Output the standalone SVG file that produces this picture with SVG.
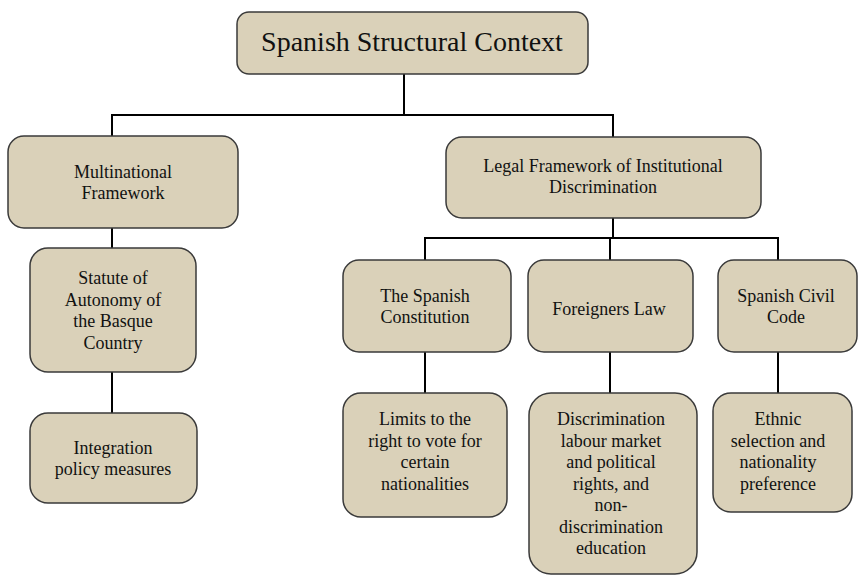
<svg xmlns="http://www.w3.org/2000/svg" width="858" height="575" viewBox="0 0 858 575">
<defs>
<style>
rect.box{fill:#dad1b9;stroke:#3a3a3a;stroke-width:1.5}
</style>
</defs>
<rect width="858" height="575" fill="#fff"/>
<g id="connectors" stroke="#000" stroke-width="2" fill="none">
<polyline points="404,74 404,115"/>
<polyline points="112,136 112,115 613,115 613,137"/>
<polyline points="112,228 112,248"/>
<polyline points="112,372 112,413"/>
<polyline points="613,218 613,238"/>
<polyline points="425,260 425,238 778,238 778,260"/>
<polyline points="610,238 610,260"/>
<polyline points="425,352 425,393"/>
<polyline points="610,352 610,393"/>
<polyline points="778,352 778,393"/>
</g>
<g id="root">
<rect class="box" x="237" y="12" width="351" height="62" rx="12"/>
<text x="412" y="51" font-family="Liberation Serif, serif" font-size="28" text-anchor="middle" fill="#111" style="font-family:'Liberation Serif',serif !important">Spanish Structural Context</text>
</g>
<g id="multinational" font-family="Liberation Serif, serif" font-size="18" text-anchor="middle" fill="#111">
<rect class="box" x="8" y="136" width="230" height="92" rx="16"/>
<text x="123" y="178" style="font-family:'Liberation Serif',serif !important">Multinational</text>
<text x="123" y="199" style="font-family:'Liberation Serif',serif !important">Framework</text>
</g>
<g id="statute" font-family="Liberation Serif, serif" font-size="18" text-anchor="middle" fill="#111">
<rect class="box" x="30" y="248" width="166" height="124" rx="18"/>
<text x="113" y="284" style="font-family:'Liberation Serif',serif !important">Statute of</text>
<text x="113" y="305.5" style="font-family:'Liberation Serif',serif !important">Autonomy of</text>
<text x="113" y="327" style="font-family:'Liberation Serif',serif !important">the Basque</text>
<text x="113" y="348.5" style="font-family:'Liberation Serif',serif !important">Country</text>
</g>
<g id="integration" font-family="Liberation Serif, serif" font-size="18" text-anchor="middle" fill="#111">
<rect class="box" x="30" y="413" width="167" height="90" rx="18"/>
<text x="113" y="454" style="font-family:'Liberation Serif',serif !important">Integration</text>
<text x="113" y="475" style="font-family:'Liberation Serif',serif !important">policy measures</text>
</g>
<g id="legal" font-family="Liberation Serif, serif" font-size="18" text-anchor="middle" fill="#111">
<rect class="box" x="446" y="137" width="315" height="81" rx="16"/>
<text x="603" y="172" style="font-family:'Liberation Serif',serif !important">Legal Framework of Institutional</text>
<text x="603" y="193" style="font-family:'Liberation Serif',serif !important">Discrimination</text>
</g>
<g id="constitution" font-family="Liberation Serif, serif" font-size="18" text-anchor="middle" fill="#111">
<rect class="box" x="343" y="260" width="168" height="92" rx="16"/>
<text x="425" y="302" style="font-family:'Liberation Serif',serif !important">The Spanish</text>
<text x="425" y="323" style="font-family:'Liberation Serif',serif !important">Constitution</text>
</g>
<g id="foreigners" font-family="Liberation Serif, serif" font-size="18" text-anchor="middle" fill="#111">
<rect class="box" x="528" y="260" width="165" height="92" rx="16"/>
<text x="609" y="315" style="font-family:'Liberation Serif',serif !important">Foreigners Law</text>
</g>
<g id="civilcode" font-family="Liberation Serif, serif" font-size="18" text-anchor="middle" fill="#111">
<rect class="box" x="718" y="260" width="139" height="92" rx="16"/>
<text x="786" y="302" style="font-family:'Liberation Serif',serif !important">Spanish Civil</text>
<text x="786" y="323" style="font-family:'Liberation Serif',serif !important">Code</text>
</g>
<g id="limits" font-family="Liberation Serif, serif" font-size="18" text-anchor="middle" fill="#111">
<rect class="box" x="343" y="393" width="164" height="124" rx="18"/>
<text x="425" y="425" style="font-family:'Liberation Serif',serif !important">Limits to the</text>
<text x="425" y="446.5" style="font-family:'Liberation Serif',serif !important">right to vote for</text>
<text x="425" y="468" style="font-family:'Liberation Serif',serif !important">certain</text>
<text x="425" y="489.5" style="font-family:'Liberation Serif',serif !important">nationalities</text>
</g>
<g id="discrimination" font-family="Liberation Serif, serif" font-size="18" text-anchor="middle" fill="#111">
<rect class="box" x="529" y="393" width="168" height="181" rx="22"/>
<text x="611" y="425" style="font-family:'Liberation Serif',serif !important">Discrimination</text>
<text x="611" y="446.5" style="font-family:'Liberation Serif',serif !important">labour market</text>
<text x="611" y="468" style="font-family:'Liberation Serif',serif !important">and political</text>
<text x="611" y="489.5" style="font-family:'Liberation Serif',serif !important">rights, and</text>
<text x="611" y="511" style="font-family:'Liberation Serif',serif !important">non-</text>
<text x="611" y="532.5" style="font-family:'Liberation Serif',serif !important">discrimination</text>
<text x="611" y="554" style="font-family:'Liberation Serif',serif !important">education</text>
</g>
<g id="ethnic" font-family="Liberation Serif, serif" font-size="18" text-anchor="middle" fill="#111">
<rect class="box" x="713" y="393" width="139" height="119" rx="18"/>
<text x="778" y="425" style="font-family:'Liberation Serif',serif !important">Ethnic</text>
<text x="778" y="446.5" style="font-family:'Liberation Serif',serif !important">selection and</text>
<text x="778" y="468" style="font-family:'Liberation Serif',serif !important">nationality</text>
<text x="778" y="489.5" style="font-family:'Liberation Serif',serif !important">preference</text>
</g>
</svg>
